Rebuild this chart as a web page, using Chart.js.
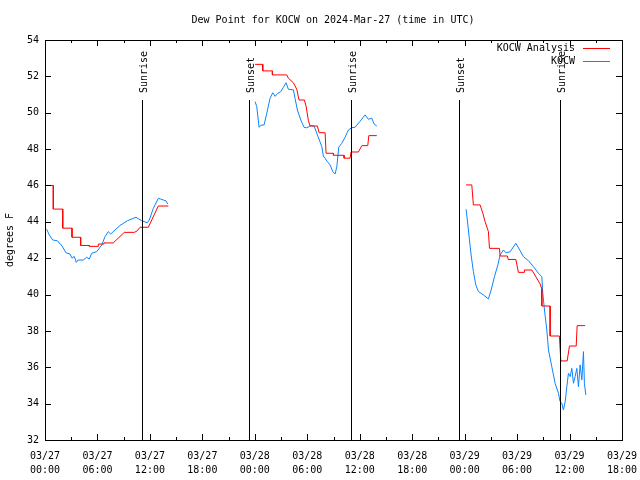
<!DOCTYPE html>
<html>
<head>
<meta charset="utf-8">
<script src="https://cdn.jsdelivr.net/npm/chart.js@4"></script>
<style>
  body { margin: 0; background: #fff; }
  #dew { display: block; }
</style>
</head>
<body>
<canvas id="dew" width="640" height="480"></canvas>
<script>
// hours since 03/27 00:00 UTC, null value = gap in the record
const analysisHours = [0, 0.95, 0.95, 2.03, 2.03, 3.09, 3.09, 4.08, 4.08, 5.07, 5.07, 6.10, 6.10, 6.75, 6.75, 7.81, 9.07, 10.22, 10.53, 10.87, 11.82, 12.96, 14.11,
  18,
  24.03, 24.91, 24.91, 26.01, 26.01, 27.65, 27.84, 28.41, 28.80, 29.06, 29.67, 29.86, 30.13, 30.32, 31.16, 31.35, 32.04, 32.15, 32.99, 32.99, 34.21, 34.21, 34.90, 35.01, 35.85, 36.24, 36.92, 37.04, 37.95,
  42,
  48.17, 48.82, 49.0, 49.77, 50.08, 50.34, 50.72, 50.84, 51.98, 52.06, 52.90, 52.97, 53.86, 54.15, 54.84, 54.84, 55.69, 56.64, 56.83, 56.83, 57.78, 57.78, 58.84, 59.0, 59.73, 59.99, 60.76, 60.87, 61.78];
const analysisDewpt = [46.0, 46.0, 44.7, 44.7, 43.65, 43.65, 43.15, 43.15, 42.7, 42.7, 42.65, 42.65, 42.78, 42.78, 42.84, 42.84, 43.42, 43.42, 43.5, 43.7, 43.7, 44.87, 44.87,
  null,
  52.66, 52.66, 52.3, 52.3, 52.08, 52.08, 51.9, 51.65, 51.29, 50.7, 50.7, 50.37, 49.56, 49.27, 49.27, 48.9, 48.9, 47.77, 47.77, 47.66, 47.66, 47.5, 47.5, 47.84, 47.84, 48.19, 48.19, 48.74, 48.74,
  null,
  46.03, 46.03, 44.93, 44.93, 44.47, 44.01, 43.46, 42.54, 42.54, 42.12, 42.12, 41.93, 41.93, 41.22, 41.22, 41.35, 41.35, 40.58, 40.3, 39.37, 39.37, 37.72, 37.72, 36.35, 36.35, 37.17, 37.17, 38.29, 38.29];

const obsHours = [0.19, 0.49, 0.88, 1.41, 1.95, 2.40, 2.86, 3.09, 3.35, 3.58, 3.78, 4.38, 4.77, 5.07, 5.34, 5.92, 6.49, 6.86, 7.24, 7.52, 8.01, 8.58, 9.42, 10.41, 11.06, 11.70, 11.93, 12.39, 12.96, 13.24, 13.84, 14.04,
  18,
  24.03, 24.22, 24.49, 24.68, 25.06, 25.37, 25.74, 26.05, 26.32, 26.58, 26.97, 27.27, 27.57, 27.84, 28.41, 28.60, 28.87, 29.26, 29.63, 29.94, 30.40, 30.78, 31.16, 31.38, 31.66, 31.84, 32.30, 32.61, 32.92, 33.18, 33.38, 33.60, 33.95, 34.32, 34.70, 35.09, 35.47, 36.04, 36.61, 36.99, 37.38, 37.64, 37.95,
  42,
  48.17, 48.37, 48.51, 48.74, 49.00, 49.28, 49.58, 50.15, 50.72, 51.03, 51.41, 51.80, 52.06, 52.44, 52.71, 53.20, 53.86, 54.35, 54.73, 55.30, 55.87, 56.44, 56.83, 56.94, 57.13, 57.40, 57.59, 57.97, 58.35, 58.73, 58.92, 59.12, 59.30, 59.50, 59.69, 59.87, 60.07, 60.26, 60.45, 60.64, 60.83, 61.02, 61.21, 61.41, 61.59, 61.70, 61.86];
const obsDewpt = [43.59, 43.28, 43.0, 42.96, 42.67, 42.30, 42.23, 42.0, 42.1, 41.77, 41.9, 41.9, 42.05, 41.95, 42.27, 42.36, 42.72, 43.18, 43.46, 43.33, 43.55, 43.8, 44.06, 44.25, 44.06, 43.95, 44.1, 44.74, 45.29, 45.25, 45.15, 44.98,
  null,
  50.61, 50.34, 49.2, 49.31, 49.33, 49.97, 50.79, 51.1, 50.9, 51.05, 51.16, 51.4, 51.65, 51.29, 51.26, 50.79, 50.15, 49.6, 49.2, 49.17, 49.29, 49.27, 48.78, 48.5, 48.14, 47.62, 47.31, 47.13, 46.76, 46.63, 47.03, 48.1, 48.32, 48.65, 49.05, 49.18, 49.2, 49.53, 49.88, 49.64, 49.7, 49.38, 49.27,
  null,
  44.69, 43.83, 43.18, 42.18, 41.26, 40.53, 40.16, 39.98, 39.76, 40.25, 40.98, 41.63, 42.18, 42.45, 42.3, 42.35, 42.82, 42.41, 42.08, 41.86, 41.53, 41.17, 40.98, 40.07, 39.15, 38.05, 36.95, 36.03, 35.12, 34.57, 34.11, 34.02, 33.65, 34.11, 34.93, 35.67, 35.49, 35.94, 35.12, 35.49, 35.94, 34.93, 36.13, 35.31, 36.86, 35.12, 34.48];

const sunHours = [11.1, 23.34, 35.01, 47.37, 58.92];
const sunLabels = ['Sunrise', 'Sunset', 'Sunrise', 'Sunset', 'Sunrise'];
const sunLineTop = 50.7;

const yTicks = [32, 34, 36, 38, 40, 42, 44, 46, 48, 50, 52, 54];

const mono = 'DejaVu Sans Mono';
const pts = (xs, ys) => xs.map((h, i) => ({ x: h, y: ys[i] }));

// gnuplot-like frame, inward tics, sun markers, title and key
const decor = {
  id: 'decor',
  afterDatasetsDraw(chart) {
    const { ctx, chartArea: a, scales: { x, y } } = chart;
    ctx.save();
    ctx.strokeStyle = '#000';
    ctx.lineWidth = 1;

    // sunrise / sunset lines
    sunHours.forEach((h, i) => {
      const px = Math.round(x.getPixelForValue(h)) + 0.5;
      ctx.beginPath();
      ctx.moveTo(px, y.getPixelForValue(sunLineTop));
      ctx.lineTo(px, a.bottom);
      ctx.stroke();
      ctx.save();
      ctx.translate(px + 2, y.getPixelForValue(sunLineTop) - 7);
      ctx.rotate(-Math.PI / 2);
      ctx.font = '10px ' + mono;
      ctx.fillStyle = '#000';
      ctx.textAlign = 'left';
      ctx.textBaseline = 'middle';
      ctx.fillText(sunLabels[i], 0, 0);
      ctx.restore();
    });

    // frame
    ctx.strokeRect(Math.round(a.left) + 0.5, Math.round(a.top) + 0.5, Math.round(a.right - a.left), Math.round(a.bottom - a.top));

    // tics: major every 6 h, minor every 3 h
    ctx.beginPath();
    yTicks.forEach(v => {
      const py = Math.round(y.getPixelForValue(v)) + 0.5;
      ctx.moveTo(a.left, py); ctx.lineTo(a.left + 6, py);
      ctx.moveTo(a.right, py); ctx.lineTo(a.right - 6, py);
    });
    for (let h = 0; h <= 66; h += 3) {
      const px = Math.round(x.getPixelForValue(h)) + 0.5;
      const len = h % 6 === 0 ? 6 : 3;
      ctx.moveTo(px, a.bottom); ctx.lineTo(px, a.bottom - len);
      ctx.moveTo(px, a.top); ctx.lineTo(px, a.top + len);
    }
    ctx.stroke();

    // title
    ctx.font = '10px ' + mono;
    ctx.fillStyle = '#000';
    ctx.textAlign = 'center';
    ctx.textBaseline = 'middle';
    ctx.fillText('Dew Point for KOCW on 2024-Mar-27 (time in UTC)', 333, 20);

    // key
    ctx.textAlign = 'right';
    chart.data.datasets.forEach((ds, i) => {
      const ky = 48 + i * 13;
      ctx.fillStyle = '#000';
      ctx.fillText(ds.label, 575, ky);
      ctx.strokeStyle = ds.borderColor;
      ctx.beginPath();
      ctx.moveTo(583, ky + 0.5);
      ctx.lineTo(610, ky + 0.5);
      ctx.stroke();
    });
    ctx.restore();
  }
};

new Chart(document.getElementById('dew'), {
  type: 'line',
  data: {
    datasets: [
      {
        label: 'KOCW Analysis',
        data: pts(analysisHours, analysisDewpt),
        borderColor: '#ff0000',
        borderWidth: 1,
        pointRadius: 0,
        spanGaps: false,
        tension: 0
      },
      {
        label: 'KOCW',
        data: pts(obsHours, obsDewpt),
        borderColor: '#0a84ff',
        borderWidth: 1,
        pointRadius: 0,
        spanGaps: false,
        tension: 0
      }
    ]
  },
  options: {
    responsive: false,
    animation: false,
    layout: { padding: { top: 40, right: 18, left: 0, bottom: 0 } },
    plugins: {
      legend: { display: false },
      title: { display: false },
      tooltip: { enabled: false }
    },
    scales: {
      x: {
        type: 'linear',
        min: 0,
        max: 66,
        grid: { display: false, drawTicks: false },
        border: { display: false },
        afterFit: s => { s.height = 40; s.paddingLeft = 0; s.paddingRight = 0; },
        ticks: {
          stepSize: 6,
          padding: 9,
          maxRotation: 0,
          autoSkip: false,
          color: '#000',
          font: { family: mono, size: 10, lineHeight: 1.4 },
          callback: v => {
            const day = 27 + Math.floor(v / 24);
            const hr = v % 24;
            return ['03/' + day, String(hr).padStart(2, '0') + ':00'];
          }
        }
      },
      y: {
        min: 32,
        max: 54,
        grid: { display: false, drawTicks: false },
        border: { display: false },
        afterFit: s => { s.width = 45; },
        afterBuildTicks: s => { s.ticks = yTicks.map(v => ({ value: v })); },
        ticks: {
          padding: 6,
          color: '#000',
          font: { family: mono, size: 10 }
        },
        title: {
          display: true,
          text: 'degrees F',
          color: '#000',
          font: { family: mono, size: 10 },
          padding: { top: 4, bottom: 0 }
        }
      }
    }
  },
  plugins: [decor]
});
</script>
</body>
</html>
